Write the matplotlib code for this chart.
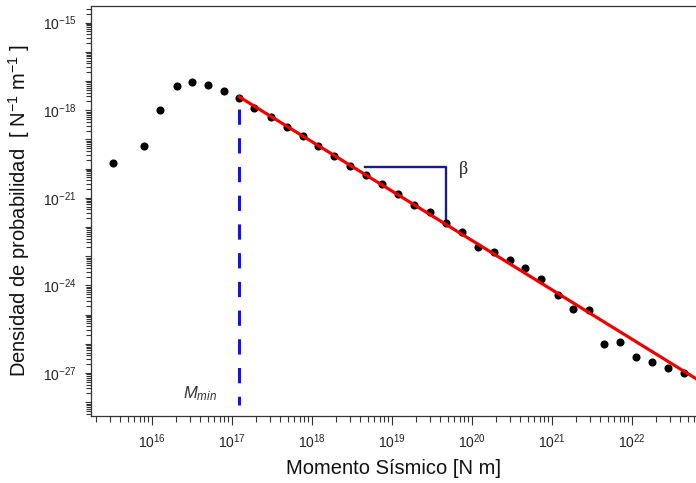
#!/usr/bin/env python3
# -*- coding: utf-8 -*-
"""Power-law fit of the seismic moment probability density."""

import matplotlib

matplotlib.use("Agg")
import matplotlib.pyplot as plt
import numpy as np
from matplotlib.ticker import FixedLocator, FuncFormatter, LogLocator, NullFormatter

# log10 of seismic moment [N m] for every binned point
MOMENT_EXP = [
    15.51, 15.90, 16.10, 16.31, 16.50, 16.70, 16.90, 17.09,
    17.28, 17.49, 17.69, 17.89, 18.08, 18.28, 18.48, 18.68,
    18.88, 19.08, 19.28, 19.48, 19.68, 19.88, 20.07, 20.28,
    20.48, 20.66, 20.86, 21.07, 21.26, 21.46, 21.65, 21.85,
    22.05, 22.25, 22.45, 22.65,
]
# log10 of probability density [N^-1 m^-1]
DENSITY_EXP = [
    -19.82, -19.22, -17.99, -17.17, -17.04, -17.14, -17.34, -17.59,
    -17.93, -18.24, -18.56, -18.89, -19.22, -19.57, -19.90, -20.22,
    -20.52, -20.88, -21.24, -21.49, -21.87, -22.18, -22.67, -22.84,
    -23.14, -23.39, -23.79, -24.33, -24.80, -24.85, -26.01, -25.92,
    -26.44, -26.61, -26.84, -27.01,
]

# fitted power law (end points, log10)
FIT_X_EXP = [17.09, 23.0]
FIT_Y_EXP = [-17.54, -27.53]

MMIN_EXP = 17.09
MMIN_Y_EXP = [-17.97, -28.1]

# slope triangle (log10 coordinates)
TRI_X_EXP = [18.66, 19.675, 19.675]
TRI_Y_EXP = [-19.95, -19.95, -21.82]

X_RANGE_EXP = [15.2375, 22.8]
Y_RANGE_EXP = [-28.47, -14.43]
X_LABELLED = [16, 17, 18, 19, 20, 21, 22]
Y_LABELLED = [-15, -18, -21, -24, -27]


def exp10(values):
    return np.power(10.0, np.asarray(values, dtype=float))


def main() -> None:
    plt.rcParams["font.family"] = ["Liberation Sans", "DejaVu Sans"]
    plt.rcParams["mathtext.fontset"] = "custom"
    plt.rcParams["mathtext.rm"] = "Liberation Sans"
    plt.rcParams["mathtext.it"] = "Liberation Sans:italic"
    plt.rcParams["mathtext.default"] = "regular"

    fig = plt.figure(figsize=(6.96, 4.83), dpi=100)
    ax = fig.add_axes([91 / 696, 1 - 416 / 483, 1 - 91 / 696, (416 - 6) / 483])

    ax.set_xscale("log")
    ax.set_yscale("log")
    ax.set_xlim(*exp10(X_RANGE_EXP))
    ax.set_ylim(*exp10(Y_RANGE_EXP))

    ax.scatter(exp10(MOMENT_EXP), exp10(DENSITY_EXP), s=34, color="black", zorder=3, linewidths=0)
    ax.plot(exp10(FIT_X_EXP), exp10(FIT_Y_EXP), color="#ee0000", linewidth=2.3, zorder=4)
    ax.plot(exp10([MMIN_EXP, MMIN_EXP]), exp10(MMIN_Y_EXP), color="#1414e6",
            linewidth=2.2, dashes=(5, 4.4), zorder=2)
    ax.plot(exp10(TRI_X_EXP), exp10(TRI_Y_EXP), color="#1c1c80", linewidth=1.7, zorder=2)

    ax.text(10 ** 19.84, 10 ** -20.03, "β", fontsize=13, family=["Liberation Serif", "DejaVu Serif"],
            ha="left", va="center", color="#222222")
    ax.text(10 ** 16.6, 10 ** -27.7, "$\\mathit{M}_{\\mathit{min}}$", fontsize=12,
            ha="center", va="center", color="#333333")

    # axes frame: open on the right, like the original export
    ax.spines["right"].set_visible(False)
    for side in ["top", "left", "bottom"]:
        ax.spines[side].set_color("#333333")
        ax.spines[side].set_linewidth(0.9)

    ax.xaxis.set_major_locator(FixedLocator(exp10(X_LABELLED)))
    ax.xaxis.set_minor_locator(LogLocator(base=10, subs=np.arange(2, 10), numticks=20))
    ax.xaxis.set_minor_formatter(NullFormatter())
    ax.xaxis.set_major_formatter(FuncFormatter(lambda v, _: f"$10^{{{int(round(np.log10(v)))}}}$"))

    y_major = [10.0 ** e for e in range(-28, -14)]
    ax.yaxis.set_major_locator(FixedLocator(y_major))
    ax.yaxis.set_minor_locator(LogLocator(base=10, subs=np.arange(2, 10), numticks=30))
    ax.yaxis.set_minor_formatter(NullFormatter())

    def y_fmt(v, _):
        e = int(round(np.log10(v)))
        return f"$10^{{{e}}}$" if e in Y_LABELLED else ""

    ax.yaxis.set_major_formatter(FuncFormatter(y_fmt))

    ax.tick_params(axis="x", which="major", length=6.5, width=0.8, color="#333333",
                   labelsize=10, labelcolor="#222222", pad=5)
    ax.tick_params(axis="x", which="minor", length=4.3, width=0.8, color="#333333")
    ax.tick_params(axis="y", which="major", length=4.5, width=0.8, color="#333333",
                   labelsize=10, labelcolor="#222222", pad=6)
    ax.tick_params(axis="y", which="minor", length=3.5, width=0.8, color="#333333")

    ax.set_xlabel("Momento Sísmico [N m]", fontsize=14.5, color="#111111", labelpad=6)
    ax.set_ylabel("Densidad de probabilidad  [ N$^{-1}$ m$^{-1}$ ]", fontsize=14.5,
                  color="#111111", labelpad=8)

    fig.savefig("out.png", dpi=100)
    plt.close(fig)


if __name__ == "__main__":
    main()
